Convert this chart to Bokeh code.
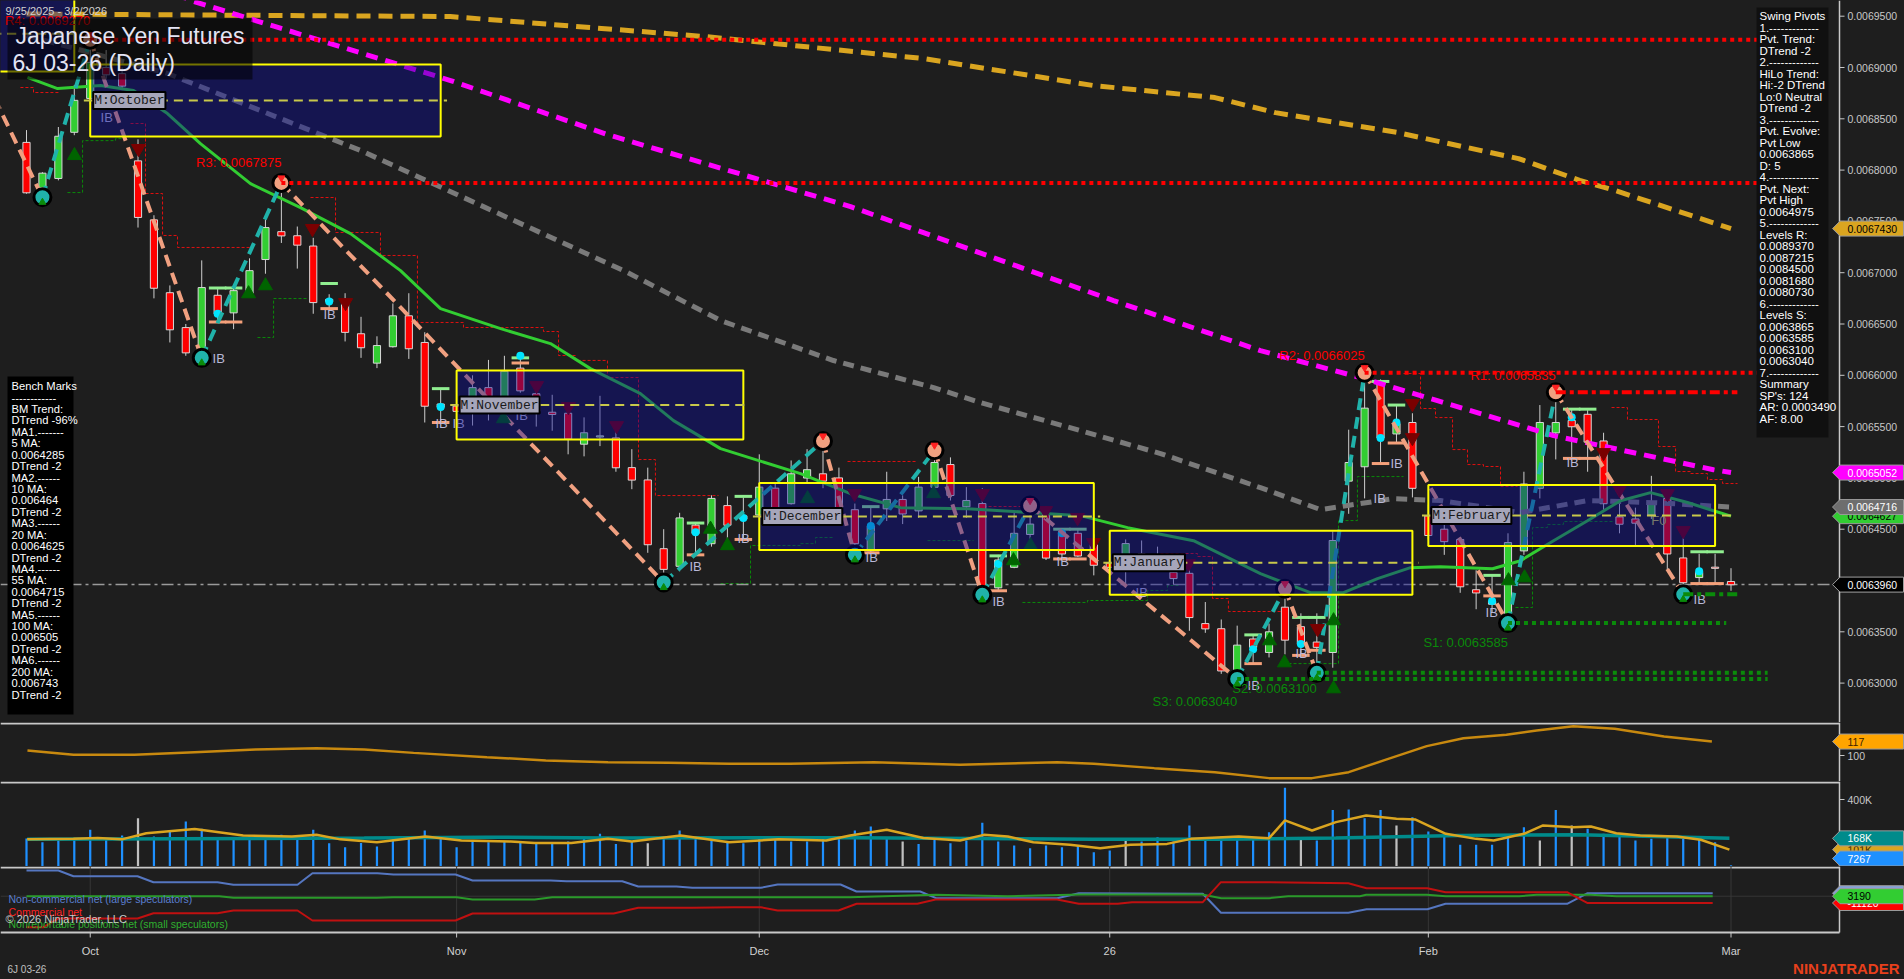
import numpy as np
import pandas as pd
from bokeh.plotting import figure
from bokeh.layouts import column
from bokeh.models import Range1d, ColumnDataSource, Label, GlobalInlineStyleSheet
from bokeh.core.properties import value
from bokeh.embed import file_html
from bokeh.resources import INLINE

# ============================ DATA ============================
start_date, end_date = "2025-09-25", "2026-03-02"
exchange_holidays = ["2025-11-27", "2025-12-25", "2026-01-01", "2026-01-19", "2026-02-16"]

# daily OHLC, price x 1e7
open_e7 = [68270, 67830, 67920, 68370, 68700, 69000, 68940, 68090, 67515, 66805,
           66465, 66240, 66780, 66610, 66800, 67130, 67400, 67360, 67260, 66740,
           66700, 66405, 66120, 66280, 66580, 66320, 65720, 65700, 65640, 65880,
           65690, 66070, 65820, 65640, 65630, 65330, 65400, 65390, 65100, 64980,
           64310, 64140, 64540, 64360, 64730, 64630, 64640, 64900, 64750, 65000,
           65040, 65000, 64690, 64290, 64700, 64790, 64680, 64910, 65130, 64720,
           64750, 63930, 64130, 64450, 64660, 64470, 64460, 64350, 64170, 64110,
           64260, 64200, 64080, 64070, 63580, 63530, 63120, 63430, 63300, 63740,
           63550, 63400, 63300, 64970, 65110, 65930, 65430, 65540, 64630, 64500,
           64400, 63910, 63800, 63650, 64290, 64900, 65440, 65560, 65620, 65360,
           64620, 64600, 64640, 64800, 64220, 64030, 64130, 63990]
high_e7 = [68390, 67980, 68420, 68830, 69270, 69170, 69000, 68300, 67560, 66876,
           66500, 67120, 66850, 66850, 67140, 67520, 67875, 67450, 67340, 66790,
           66800, 66570, 66380, 66700, 66800, 66420, 65870, 65850, 66000, 66150,
           66190, 66170, 65900, 65810, 65690, 65590, 65800, 65480, 65280, 65100,
           64500, 64660, 64560, 64830, 64820, 64810, 65230, 64950, 65170, 65280,
           65360, 65100, 64750, 64720, 65060, 64830, 65010, 65270, 65200, 64910,
           64900, 64250, 64660, 64730, 64720, 64510, 64510, 64450, 64260, 64400,
           64390, 64330, 64130, 64120, 63790, 63620, 63560, 63470, 63580, 63920,
           63680, 63680, 64480, 65470, 66025, 65960, 65710, 65630, 64740, 64650,
           64420, 64100, 64050, 64460, 65060, 65710, 65835, 65680, 65660, 65440,
           64750, 64710, 65020, 64850, 64440, 64260, 64260, 64120]
low_e7 = [67770, 67735, 67900, 68340, 68640, 68890, 68780, 67440, 66750, 66320,
          66190, 66170, 66520, 66450, 66780, 66990, 67290, 67040, 66600, 66650,
          66330, 66170, 66070, 66270, 66160, 65540, 65540, 65550, 65510, 65560,
          65620, 65830, 65500, 65460, 65230, 65210, 65310, 65060, 64890, 64270,
          63980, 64090, 64250, 64330, 64390, 64400, 64620, 64650, 64740, 64950,
          64900, 64660, 64250, 64270, 64580, 64550, 64610, 64900, 64780, 64610,
          63860, 63900, 64120, 64300, 64200, 64200, 64230, 64050, 64100, 63930,
          64100, 64120, 63960, 63510, 63490, 63090, 63040, 63190, 63250, 63280,
          63270, 63100, 63150, 64650, 64800, 65130, 65340, 64810, 64400, 64250,
          63880, 63720, 63690, 63585, 64250, 64800, 65180, 65170, 65060, 64680,
          64460, 64330, 64600, 64110, 63865, 63970, 63970, 63900]
close_e7 = [67780, 67970, 68330, 68680, 69050, 68930, 68820, 67540, 66850, 66445,
            66220, 66855, 66600, 66825, 67020, 67440, 67360, 67270, 66710, 66720,
            66420, 66270, 66290, 66580, 66260, 65700, 65690, 65650, 65880, 65640,
            66040, 65850, 65650, 65620, 65380, 65440, 65410, 65100, 64980, 64350,
            64110, 64610, 64460, 64800, 64540, 64600, 64910, 64710, 65040, 65080,
            64970, 64680, 64360, 64530, 64790, 64650, 64910, 65150, 64830, 64780,
            63920, 64200, 64460, 64550, 64220, 64260, 64240, 64150, 64130, 64360,
            64140, 64180, 64020, 63640, 63530, 63120, 63370, 63350, 63500, 63420,
            63380, 63350, 64390, 65150, 65680, 65390, 65530, 64900, 64440, 64380,
            63940, 63880, 63770, 64370, 64940, 65540, 65540, 65500, 65350, 64750,
            64550, 64560, 64750, 64260, 63980, 64080, 64120, 63960]
# volume in thousands of contracts
volume_k = [167, 145, 155, 165, 219, 165, 185, 288, 179, 215,
            269, 225, 175, 169, 179, 185, 189, 171, 219, 139,
            115, 141, 119, 165, 179, 215, 165, 115, 155, 145,
            149, 141, 135, 135, 149, 175, 195, 135, 149, 139,
            175, 215, 165, 155, 149, 139, 175, 165, 149, 149,
            165, 175, 215, 239, 175, 149, 135, 165, 139, 155,
            261, 149, 125, 109, 125, 115, 125, 85, 95, 169,
            149, 175, 149, 245, 169, 179, 175, 169, 205, 470,
            165, 155, 338, 340, 288, 338, 245, 294, 209, 199,
            130, 130, 130, 185, 235, 155, 338, 245, 225, 195,
            179, 155, 165, 179, 165, 179, 145, 7.267]
volume_grey_bars = [7, 39, 55, 69, 80, 86, 95, 97]

# moving averages (bar, price x1e7)
ma20_bar = [0.06, 1.95, 4.65, 6.72, 8.85, 10.92, 14.06, 17.2, 20.34, 23.48, 25.99, 29.76, 32.89, 35.4,
            38.54, 40.62, 43.57, 48.59, 51.73, 54.87, 59.07, 63.21, 66.16, 69.12, 73.26, 77.46, 80.6,
            82.67, 84.81, 86.88, 88.76, 92.03, 93.79, 95.86, 97.99, 100.06, 101.95, 104.27, 105.9, 107]
ma20_e7 = [68904, 68795, 68824, 68775, 68551, 68258, 67868, 67634, 67381, 67020, 66650, 66455, 66309, 66065,
           65821, 65558, 65285, 65041, 64846, 64710, 64700, 64661, 64632, 64515, 64388, 64067, 63881,
           63881, 64018, 64125, 64135, 64115, 64193, 64388, 64583, 64778, 64856, 64760, 64680, 64627]
ma55_bar = [0, 8.85, 20.97, 37.48, 43.57, 50.66, 56.94, 59.89, 66.16, 71.19, 77.46, 81.23, 83.74, 85.81,
            88.76, 93.79, 97.99, 102.13, 107]
ma55_e7 = [69312, 68942, 68191, 67021, 66534, 66144, 65880, 65734, 65461, 65237, 64905, 64691, 64750, 64798,
           64779, 64662, 64779, 64759, 64716]
ma100_bar = [5.9, 10.3, 26.62, 36.47, 51.73, 68.24, 77.46, 83.74, 88.57, 95.86, 105.9, 107]
ma100_e7 = [69947, 69653, 68873, 68346, 67644, 66728, 66240, 65977, 65753, 65412, 65080, 65052]
ma200_bar = [0, 26.6, 42.56, 56.3, 66.98, 74.6, 78.4, 86, 93.66, 97.5, 99.75, 107]
ma200_e7 = [69522, 69497, 69302, 69087, 68824, 68707, 68560, 68368, 68112, 67900, 67800, 67430]

# swing pivots (bar, price x1e7, H/L)
pivot_bar = [-2, 1, 4, 11, 16, 40, 50, 52, 57, 60, 63, 76, 79, 81, 84, 93, 96, 104]
pivot_e7 = [68700, 67735, 69270, 66170, 67875, 63980, 65360, 64250, 65270, 63860, 64730,
            63040, 63920, 63100, 66025, 63585, 65835, 63865]
pivot_kind = ["H", "L", "H", "L", "H", "L", "H", "L", "H", "L", "H", "L", "H", "L", "H", "L", "H", "L"]

# support / resistance levels
level_name = ["R4", "R3", "R2", "R1", "S1", "S2", "S3"]
level_e7 = [69270, 67875, 66025, 65835, 63585, 63100, 63040]
level_from_bar = [4, 16, 84, 96, 93, 81, 76]
pivot_low_now_e7 = 63865

# monthly range boxes
box_months = ["2025-09", "2025-10", "2025-11", "2025-12", "2026-01", "2026-02"]
box_hi_e7 = [69700, 69030, 66046, 64951, 64486, 64932]
box_lo_e7 = [68960, 68327, 65374, 64298, 63862, 64337]

# trailing stops (bar, price x1e7)
red_stop_paths = [
    [(-0.38, 68805), (0.44, 68805), (0.44, 68756), (2.13, 68756)],
    [(6.53, 68454), (7.47, 68454), (7.47, 67772), (8.54, 67772), (8.54, 67363), (9.48, 67363),
     (9.48, 67246), (14.06, 67246)],
    [(17.83, 67733), (19.4, 67733), (19.4, 67392), (22.22, 67392), (22.22, 67168), (24.54, 67168),
     (24.54, 66515), (27.43, 66515), (27.43, 66466), (32.45, 66466), (32.45, 66427), (33.4, 66427),
     (33.4, 66193), (34.46, 66193), (34.46, 66145), (36.47, 66145), (36.47, 65978), (38.42, 65978),
     (38.42, 65179), (39.48, 65179), (39.48, 64828), (43.44, 64828)],
    [(51.54, 65160), (55.93, 65160)],
    [(60.08, 64721), (63.03, 64721)],
    [(71.19, 64263), (73.51, 64263), (73.51, 64234), (74.45, 64234), (74.45, 63825), (75.45, 63825),
     (75.45, 63698), (79.16, 63698)],
    [(86.44, 66017), (87.51, 66017), (87.51, 65676), (88.45, 65676), (88.45, 65588), (89.52, 65588),
     (89.52, 65276), (90.46, 65276), (90.46, 65130), (91.46, 65130), (91.46, 65111), (92.53, 65111),
     (92.53, 64916), (93.6, 64916)],
    [(99.5, 65686), (100.5, 65686), (100.5, 65569), (102.45, 65569), (102.45, 65306), (103.52, 65306),
     (103.52, 65062), (104.46, 65062), (104.46, 65043), (105.52, 65043), (105.52, 64984),
     (106.47, 64984), (106.47, 64945), (107.41, 64945)],
]
green_stop_paths = [
    [(2.57, 67781), (3.52, 67781), (3.52, 68287), (5.59, 68287), (5.59, 68307), (6.21, 68307)],
    [(14.5, 66368), (15.51, 66368), (15.51, 66748), (17.64, 66748)],
    [(43.57, 63970), (45.45, 63970), (45.45, 64341), (48.59, 64341), (48.59, 64360), (49.53, 64360),
     (49.53, 64419), (50.66, 64419)],
    [(56.56, 64389), (59.45, 64389)],
    [(62.52, 63786), (66.6, 63786), (66.6, 63805), (70.37, 63805), (70.37, 63903), (71.63, 63903),
     (71.63, 63951), (72.44, 63951)],
    [(78.91, 63190), (82.36, 63190), (82.36, 64584), (83.55, 64584), (83.55, 65013), (86.44, 65013)],
    [(93.47, 63737), (94.54, 63737), (94.54, 64516), (95.48, 64516), (95.48, 64546), (96.48, 64546),
     (96.48, 64575), (99.56, 64575)],
]

# signal arrows, inside-bar markers and IB tags (bar, price x1e7)
up_arrow_bar = [3.01, 13.94, 15.0, 29.94, 42.94, 44.0, 49.03, 56.94, 61.96, 63.03, 78.03, 78.97, 82.05, 82.05, 93.03, 94.04]
up_arrow_e7 = [68142, 66795, 66873, 65577, 64500, 64340, 64798, 64847, 64193, 64340, 63413, 63198, 63608, 62945, 63998, 64027]
dn_arrow_bar = [7.03, 17.95, 20.03, 32.02, 34.02, 37.04, 51.98, 60.01, 63.97, 65.98, 66.98, 72.94, 81.04, 87.0, 87.0, 99.0, 100.0, 103.01, 104.0]
dn_arrow_e7 = [68210, 67430, 66708, 65899, 65694, 65509, 64847, 64847, 64681, 64613, 64369, 64164, 63531, 65724, 65392, 65246, 64886, 64847, 64486]
ib_bar = [4.65, 11.68, 18.64, 25.67, 26.74, 30.7, 41.62, 44.63, 52.67, 60.64, 64.66, 69.62, 76.65, 79.66, 84.56, 85.62, 91.59, 96.67, 104.65]
ib_e7 = [68512, 66160, 66590, 65530, 65530, 65610, 64140, 64410, 64225, 63800, 64190, 63880, 62975, 63290, 64800, 65140, 63690, 65150, 63810]
ibar_bar = [12, 13, 19, 26, 31, 42, 45, 53, 61, 65, 66, 77, 80, 81, 85, 86, 92, 97, 98, 105, 106]
ibar_hi_e7 = [66850, 66850, 66895, 65870, 66170, 64560, 64820, 64720, 64240, 64500, 64500, 63470, 63640,
              63640, 65940, 65710, 64050, 65670, 65670, 64280, 64280]
ibar_lo_e7 = [66520, 66520, 66650, 65540, 66120, 64250, 64400, 64270, 63900, 64210, 64210, 63190, 63270,
              63320, 65140, 65340, 63850, 65190, 65190, 63970, 63970]
dot_bar = [12, 19, 26, 31, 42, 45, 53, 61, 65, 77, 80, 85, 86, 92, 97, 105]
dot_e7 = [66600, 66720, 65690, 66190, 64470, 64610, 64530, 64160, 64460, 63330, 63380, 65390, 65540, 63800,
          65590, 64090]

# oscillator panel
osc_bar = [0.06, 2.95, 6.78, 10.55, 14.38, 18.2, 21.2, 24.3, 28.9, 32.6, 36.5, 40.3, 44.1, 47.9, 53.2, 58.6,
           64.7, 67, 70.8, 74.6, 78, 80.7, 83, 85.2, 87.9, 90.2, 92.9, 94.8, 97.1, 99.7, 102.8, 105.8]
osc_val = [106, 100.8, 100.8, 104, 107.3, 108.9, 107.3, 103.2, 98, 94, 91.9, 91.1, 89.9, 89.9, 91.9, 88.6,
           91.9, 89.9, 84.6, 79.7, 72.4, 72.4, 79.7, 94, 111.4, 121, 125.2, 130.5, 135.8, 132.6, 123.2, 117]

# volume averages (K)
vol_avg_bar = [0.04, 2.94, 4.47, 5.99, 7.52, 10.56, 13.6, 16.66, 18.2, 19.7, 22, 25.05, 27.3, 30.4, 31.9,
               34.2, 36.5, 38, 41.06, 44.1, 47.2, 50.2, 51.7, 54, 56.3, 58.6, 60.1, 61.6, 63.2, 65.5,
               67.4, 69.3, 71.6, 73.1, 76.1, 78, 79, 80.7, 82.2, 84.1, 86, 87.2, 89.1, 91, 92.1,
               94, 95.2, 97.1, 98.2, 99.8, 101.3, 103.6, 105.1, 106.9]
vol_avg_k = [162, 165, 170, 162, 199, 224, 185, 179, 189, 162, 145, 179, 155, 149, 141,
             141, 165, 149, 185, 145, 162, 155, 185, 219, 170, 155, 189, 179, 145, 130,
             109, 130, 135, 165, 179, 169, 275, 215, 265, 305, 285, 280, 195, 165, 155,
             195, 245, 235, 239, 199, 185, 179, 160, 101]
vol_avg2_bar = [0.04, 21.2, 28.8, 36.5, 51.7, 67, 74.6, 82.2, 89.9, 97.5, 106.9]
vol_avg2_k = [162, 170, 175, 170, 172, 162, 163, 170, 185, 190, 168]

# COT net positions
cot_blue_bar = [0, 2, 2.95, 6.97, 7.97, 11.99, 12.99, 17.01, 17.95, 22.03, 23.04, 26.93, 28.0, 32.9, 33.9,
                37.4, 38.4, 40.8, 41.8, 46.1, 47.15, 51.1, 52.1, 56.1, 57.1, 64.7, 66.06, 73.84, 74.98,
                82.98, 84.12, 87.94, 89.08, 96.71, 98.0, 105.85]
cot_blue = [57160, 57160, 45190, 45190, 32590, 32590, 27130, 27130, 51490, 51490, 48760, 48760, 36160, 36160,
            34690, 34690, 23560, 23560, 20830, 20830, 27760, 27760, 13060, 13060, -1010, -1010, 9490, 8230,
            -31670, -31670, -24110, -24110, -12770, -12770, 9490, 9490]
cot_green_bar = [0, 12.1, 13.0, 22.0, 23.0, 27.0, 28.0, 31.9, 33.0, 51.7, 57.07, 61.6, 66.2, 73.8, 75.0,
                 78.0, 79.2, 83.7, 84.1, 87.9, 89.1, 93.7, 94.8, 98.2, 99.8, 105.85]
cot_green = [3190, 3190, -170, -170, 1090, 1090, -3740, -3740, 1090, 1090, 6130, 3190, 6760, 6760, -1010,
             -1010, 3190, 3190, 6130, 6130, 3190, 3190, 6130, 6130, 3190, 3190]
cot_red_bar = [0, 1.07, 2.0, 6.97, 7.97, 11.99, 12.99, 17.01, 17.95, 26.93, 28.0, 36.86, 38.4, 41.8, 44.4,
               46.1, 47.15, 50.97, 52.11, 55.92, 57.07, 64.69, 66.06, 68.5, 69.4, 73.84, 74.98, 78.0,
               82.98, 84.12, 87.94, 89.08, 96.71, 98.0, 105.85]
cot_red = [-61910, -61910, -43640, -43640, -32510, -32510, -26840, -26840, -47840, -47840, -33140, -33140,
           -21170, -21170, -19910, -19910, -26840, -26840, -12770, -12770, -3740, -3740, -12770, -12770,
           -9410, -9410, 32590, 32590, 30490, 19990, 19990, 11590, 11590, -11120, -11120]

bench_lines = ["Bench Marks", "------------", "BM Trend:", "DTrend -96%", "MA1.-------", "5 MA:",
               "0.0064285", "DTrend -2", "MA2.------", "10 MA:", "0.006464", "DTrend -2", "MA3.------",
               "20 MA:", "0.0064625", "DTrend -2", "MA4.------", "55 MA:", "0.0064715", "DTrend -2",
               "MA5.------", "100 MA:", "0.006505", "DTrend -2", "MA6.------", "200 MA:", "0.006743",
               "DTrend -2"]
swing_lines = ["Swing Pivots", "1.-------------", "Pvt. Trend:", "DTrend -2", "2.-------------",
               "HiLo Trend:", "Hi:-2 DTrend", "Lo:0 Neutral", "DTrend -2", "3.-------------",
               "Pvt. Evolve:", "Pvt Low", "0.0063865", "D: 5", "4.-------------", "Pvt. Next:",
               "Pvt High", "0.0064975", "5.-------------", "Levels R:", "0.0089370", "0.0087215",
               "0.0084500", "0.0081680", "0.0080730", "6.-------------", "Levels S:", "0.0063865",
               "0.0063585", "0.0063100", "0.0063040", "7.-------------", "Summary", "SP's: 124",
               "AR: 0.0003490", "AF: 8.00"]
cot_legend = ["Non-commercial net (large speculators)", "Commercial net",
              "Nonreportable positions net (small speculators)"]

# ============================ SETUP ============================
E7 = 1e-7
o, h, l, c = (np.array(a, dtype=float) * E7 for a in (open_e7, high_e7, low_e7, close_e7))
n = len(o)
idx = np.arange(n)
dates = pd.bdate_range(start_date, end_date)
dates = dates[~dates.isin(pd.to_datetime(exchange_holidays))][:n]
per = dates.to_period("M")
month_first = [i for i in range(len(dates)) if i == 0 or per[i] != per[i - 1]]
tick_idx = [i for i in month_first if dates[i].day <= 7]
tick_lab = [(dates[i].strftime("%y") if dates[i].month == 1 else dates[i].strftime("%b")) for i in tick_idx]

BG = "#1e1e1e"
SANS = "Liberation Sans"
MONO = "Liberation Mono"
AXC = "#c8c8c8"
AXIS_PX = 1839

# reference pixel -> data helpers (layout only)
PPX = 0.00005 / 51.3
def xd(px): return (px - 26.0) / 15.93
def yd(py): return 0.00695 - (py - 15.7) * PPX
def osc_y(py): return 100 + (755 - py) / 0.82
def vol_y(py): return (866 - py) / 0.1675
def cot_y(py): return 3190 + (895.7 - py) * 2100

W = 1904
xr = Range1d(xd(0), xd(W))

def panel(top, bot, yfun):
    p = figure(frame_width=W, frame_height=bot - top, x_range=xr,
               y_range=Range1d(yfun(bot), yfun(top)), output_backend="svg",
               toolbar_location=None, x_axis_location=None, y_axis_location=None,
               min_border_left=0, min_border_right=0, min_border_top=0, min_border_bottom=0,
               background_fill_color=BG, border_fill_color=BG, outline_line_color=None)
    p.grid.visible = False
    return p

def txt(p, x, y, s, size="10.5px", color=AXC, align="left", font=SANS, style="normal"):
    xs = list(x) if isinstance(x, (list, tuple, np.ndarray)) else [x]
    ys = list(y) if isinstance(y, (list, tuple, np.ndarray)) else [y]
    ss = list(s) if isinstance(s, list) else [s]
    p.text(x=xs, y=ys, text=ss, text_font=value(font), text_font_size=size, text_color=color,
           text_align=align, text_baseline="middle", text_font_style=style)

def right_axis(p, top, bot, yfun, ticks, labels):
    p.segment(x0=xd(AXIS_PX), y0=yfun(bot), x1=xd(AXIS_PX), y1=yfun(top), line_color=AXC, line_width=1.5)
    p.segment(x0=[xd(AXIS_PX)] * len(ticks), y0=ticks, x1=[xd(AXIS_PX + 5)] * len(ticks), y1=ticks,
              line_color=AXC, line_width=1)
    txt(p, [xd(AXIS_PX + 8)] * len(ticks), ticks, labels, size="10.5px", color=AXC)

def separator(p, yv):
    p.segment(x0=xd(0), y0=yv, x1=xd(AXIS_PX), y1=yv, line_color=AXC, line_width=2)

def add_tag(p, yv, s, fill, fg, dpp, border=None):
    hh = 7.5 * dpp
    p.patch(x=[xd(1832), xd(1839.5), xd(1903), xd(1903), xd(1839.5)],
            y=[yv, yv + hh, yv + hh, yv - hh, yv - hh], fill_color=fill,
            line_color=border or "#9a9a9a", line_width=1)
    txt(p, xd(1847), yv, s, size="10.5px", color=fg)

# ============================ PRICE PANEL ============================
p1 = panel(0, 722, yd)

# trailing stops
p1.multi_line(xs=[[q[0] for q in path] for path in red_stop_paths],
              ys=[[q[1] * E7 for q in path] for path in red_stop_paths],
              line_color="#e01010", line_width=1, line_dash="3 2")
p1.multi_line(xs=[[q[0] for q in path] for path in green_stop_paths],
              ys=[[q[1] * E7 for q in path] for path in green_stop_paths],
              line_color="#0a8a0a", line_width=1, line_dash="3 2")

# last price line
p1.segment(x0=xd(0), y0=c[-1], x1=xd(AXIS_PX), y1=c[-1], line_color="#9a9a9a", line_width=1.5,
           line_dash="12 4 3 4")

# candles
src = ColumnDataSource(dict(x=idx, h=h, l=l, top=np.maximum(o, c), bot=np.minimum(o, c) - 1.5e-7,
                            fill=np.where(c >= o, "#32CD32", "#FF0000")))
p1.segment(x0="x", y0="h", x1="x", y1="l", source=src, line_color="#cfcfcf", line_width=1)
p1.vbar(x="x", top="top", bottom="bot", width=0.45, source=src, fill_color="fill",
        line_color="#d8d8d8", line_width=1)

# inside-bar markers
ib_x = np.array(ibar_bar, dtype=float)
p1.segment(x0=ib_x - 0.55, y0=np.array(ibar_hi_e7) * E7, x1=ib_x + 0.55, y1=np.array(ibar_hi_e7) * E7,
           line_color="#90EE90", line_width=3)
p1.segment(x0=ib_x - 0.55, y0=np.array(ibar_lo_e7) * E7, x1=ib_x + 0.55, y1=np.array(ibar_lo_e7) * E7,
           line_color="#F4A07A", line_width=3)
p1.scatter(dot_bar, np.array(dot_e7) * E7, marker="circle", size=8, fill_color="#00E5FF",
           line_color=None)

# moving averages
p1.line(ma200_bar, np.array(ma200_e7) * E7, line_color="#DAA520", line_width=5, line_dash="14 8")
p1.line(ma100_bar, np.array(ma100_e7) * E7, line_color="#FF00FF", line_width=5, line_dash="12 8")
p1.line(ma55_bar, np.array(ma55_e7) * E7, line_color="#7a7a7a", line_width=5, line_dash="11 7")
p1.line(ma20_bar, np.array(ma20_e7) * E7, line_color="#32CD32", line_width=3)

# zigzag
pv_p = np.array(pivot_e7) * E7
zx0, zy0, zx1, zy1, zc = [], [], [], [], []
for i in range(len(pivot_bar) - 1):
    zx0.append(pivot_bar[i]); zy0.append(pv_p[i]); zx1.append(pivot_bar[i + 1]); zy1.append(pv_p[i + 1])
    zc.append("#20B2AA" if pivot_kind[i] == "L" else "#F0A080")
p1.segment(x0=zx0, y0=zy0, x1=zx1, y1=zy1, line_color=zc, line_width=4, line_dash="12 7")

# arrows
p1.scatter(up_arrow_bar, np.array(up_arrow_e7) * E7, marker="triangle", size=14,
           fill_color="#006400", line_color="#006400")
p1.scatter(dn_arrow_bar, np.array(dn_arrow_e7) * E7, marker="inverted_triangle", size=14,
           fill_color="#7a0000", line_color="#7a0000")

# pivot circles
pv_show = [i for i in range(len(pivot_bar)) if pivot_bar[i] >= 0]
p1.scatter([pivot_bar[i] for i in pv_show], [pv_p[i] for i in pv_show], marker="circle", size=17,
           fill_color=["#F0A080" if pivot_kind[i] == "H" else "#20B2AA" for i in pv_show],
           line_color="black", line_width=3)
hi_show = [i for i in pv_show if pivot_kind[i] == "H"]
lo_show = [i for i in pv_show if pivot_kind[i] == "L"]
p1.scatter([pivot_bar[i] for i in hi_show], [pv_p[i] + 5 * PPX for i in hi_show],
           marker="inverted_triangle", size=7, color="#ff2020")
p1.scatter([pivot_bar[i] for i in lo_show], [pv_p[i] - 5 * PPX for i in lo_show],
           marker="triangle", size=7, color="#0a8a0a")

# IB tags
txt(p1, ib_bar, list(np.array(ib_e7) * E7), ["IB"] * len(ib_bar), size="13px", color="#b8b8d8")
txt(p1, 102.0, 64580 * E7, "F0", size="13px", color="#c8c850")

# monthly boxes
labels_to_add = []
for k, m in enumerate(box_months):
    pm = pd.Period(m, "M")
    members = [i for i in range(n) if per[i] == pm]
    a, b = members[0], members[-1]
    full = dates[a].day <= 7
    left = a if full else xr.start - 2
    hi, lo = box_hi_e7[k] * E7, box_lo_e7[k] * E7
    mid = (hi + lo) / 2
    p1.quad(left=left, right=b, top=hi, bottom=lo, fill_color="#0a0a96", fill_alpha=0.42,
            line_color="#FFFF00", line_width=2)
    mid_r = n - 1 if k == len(box_months) - 1 else b + 0.4
    p1.segment(x0=left - 0.4, y0=mid, x1=mid_r, y1=mid, line_color="#c8c84b", line_width=2,
               line_dash="9 6")
    if full:
        labels_to_add.append((a, mid, "M:" + dates[a].strftime("%B")))
for a, mid, s in labels_to_add:
    p1.add_layout(Label(x=a, y=mid, text=s, text_font=MONO, text_font_size="13px",
                        text_color="#1a1a1a", text_baseline="middle", text_align="left",
                        x_offset=3, background_fill_color="#a6a6ba", background_fill_alpha=1.0,
                        border_line_color="black", border_line_width=2, padding=1))

# support / resistance
ends = {"R4": 109.3, "R3": 109.3, "R2": 109.3, "R1": 107.4, "S1": 106.7, "S2": 109.3, "S3": 109.3}
txt_dy = {"R4": 19, "R3": 20, "R2": 17, "R1": 17, "S1": -19, "S2": -16, "S3": -23}
for nm, lv, fb in zip(level_name, level_e7, level_from_bar):
    col = "#FF0000" if nm.startswith("R") else "#0a8a0a"
    dash = "10 4 4 4" if nm == "R1" else "4 4"
    p1.segment(x0=fb, y0=lv * E7, x1=ends[nm], y1=lv * E7, line_color=col, line_width=4, line_dash=dash)
    txt(p1, fb, lv * E7 + txt_dy[nm] * PPX, "%s: %.7f" % (nm, lv * E7), size="13px", color=col,
        align="right")
p1.segment(x0=pivot_bar[-1], y0=pivot_low_now_e7 * E7, x1=107.4, y1=pivot_low_now_e7 * E7,
           line_color="#0a8a0a", line_width=4, line_dash="10 4 4 4")

# info boxes
p1.quad(left=xd(7), right=xd(73), top=yd(376), bottom=yd(714), fill_color="#000000", line_color=None)
txt(p1, [xd(11)] * len(bench_lines), [yd(385.7 + i * 11.42) for i in range(len(bench_lines))],
    bench_lines, size="11.2px", color="#ffffff")
p1.quad(left=xd(1756), right=xd(1828), top=yd(7), bottom=yd(437), fill_color="#101010", line_color=None)
txt(p1, [xd(1759)] * len(swing_lines), [yd(15.7 + i * 11.5) for i in range(len(swing_lines))],
    swing_lines, size="11.5px", color="#ffffff")

# title
p1.quad(left=xd(7), right=xd(252), top=yd(18), bottom=yd(79), fill_color="#000000", fill_alpha=0.55,
        line_color=None)
txt(p1, [xd(15), xd(12)], [yd(35), yd(62)], ["Japanese Yen Futures", "6J 03-26 (Daily)"],
    size="23px", color="#e4e4f4")
txt(p1, xd(5), yd(10), "%d/%d/%d - %d/%d/%d" % (dates[0].month, dates[0].day, dates[0].year,
                                                dates[-1].month, dates[-1].day, dates[-1].year),
    size="11px", color="#d0d0d0")

# right axis + value tags
pticks = [t * 0.00005 for t in range(int(np.ceil(yd(722) / 0.00005)), int(np.floor(yd(0) / 0.00005)) + 1)]
right_axis(p1, 0, 722, yd, pticks, ["%.7f" % t for t in pticks])
add_tag(p1, ma200_e7[-1] * E7, "%.7f" % (ma200_e7[-1] * E7), "#DAA520", "#000000", PPX)
add_tag(p1, ma100_e7[-1] * E7, "%.7f" % (ma100_e7[-1] * E7), "#FF00FF", "#ffffff", PPX)
add_tag(p1, ma20_e7[-1] * E7, "%.7f" % (ma20_e7[-1] * E7), "#32CD32", "#000000", PPX)
add_tag(p1, ma55_e7[-1] * E7, "%.7f" % (ma55_e7[-1] * E7), "#6e6e6e", "#ffffff", PPX)
add_tag(p1, c[-1], "%.7f" % c[-1], "#000000", "#ffffff", PPX, border="#a0a0a0")

# ============================ OSCILLATOR PANEL ============================
p2 = panel(722, 781, osc_y)
separator(p2, osc_y(723))
p2.line(osc_bar, osc_val, line_color="#C8890F", line_width=2.5)
right_axis(p2, 722, 781, osc_y, [100], ["100"])
add_tag(p2, osc_val[-1], "%d" % round(osc_val[-1]), "#FFA500", "#3c1e00", 1 / 0.82)

# ============================ VOLUME PANEL ============================
p3 = panel(781, 866, vol_y)
separator(p3, vol_y(782))
vcol = ["#c0c0c0" if i in volume_grey_bars else "#1E90FF" for i in idx]
p3.vbar(x=idx, top=volume_k, bottom=0, width=0.14, fill_color=vcol, line_color=None)
p3.line(vol_avg2_bar, vol_avg2_k, line_color="#008B8B", line_width=3.5)
p3.line(vol_avg_bar, vol_avg_k, line_color="#DAA520", line_width=2.5)
right_axis(p3, 781, 866, vol_y, [400], ["400K"])
dv = 1 / 0.1675
add_tag(p3, vol_avg_k[-1], "%dK" % round(vol_avg_k[-1]), "#DAA520", "#4a2a00", dv)
add_tag(p3, vol_avg2_k[-1], "%dK" % round(vol_avg2_k[-1]), "#008B8B", "#ffffff", dv)
add_tag(p3, max(volume_k[-1], vol_y(858)), "%d" % round(volume_k[-1] * 1000), "#1E90FF", "#ffffff", dv)

# ============================ COT PANEL + TIME AXIS ============================
p4 = panel(866, 979, cot_y)
separator(p4, cot_y(867))
p4.segment(x0=tick_idx, y0=[cot_y(932)] * len(tick_idx), x1=tick_idx, y1=[cot_y(866)] * len(tick_idx),
           line_color="#363636", line_width=1)
p4.segment(x0=xd(0), y0=3190, x1=xd(AXIS_PX), y1=3190, line_color="#363636", line_width=1)
p4.line(cot_blue_bar, cot_blue, line_color="#5576c0", line_width=2)
p4.line(cot_green_bar, cot_green, line_color="#2a9a2a", line_width=2)
p4.line(cot_red_bar, cot_red, line_color="#c01010", line_width=2)
right_axis(p4, 866, 932, cot_y, [], [])
# time axis
p4.segment(x0=xd(0), y0=cot_y(932), x1=xd(AXIS_PX), y1=cot_y(932), line_color=AXC, line_width=2)
p4.segment(x0=tick_idx, y0=[cot_y(932)] * len(tick_idx), x1=tick_idx, y1=[cot_y(937)] * len(tick_idx),
           line_color=AXC, line_width=1)
txt(p4, tick_idx, [cot_y(950)] * len(tick_idx), tick_lab, size="11px", color="#d2d2d2", align="center")
# legend texts
for s, py, col in zip(cot_legend, [898, 911, 923], ["#5a7fd0", "#ff2020", "#2fb02f"]):
    txt(p4, xd(8), cot_y(py), s, size="10.5px", color=col)
txt(p4, xd(5), cot_y(918), "\u00a9 2026 NinjaTrader, LLC", size="11px", color="#c8c8c8")
add_tag(p4, cot_blue[-1], "%d" % cot_blue[-1], "#87a0d8", "#000000", 2100)
add_tag(p4, cot_red[-1], "%d" % cot_red[-1], "#FF0000", "#ffffff", 2100)
add_tag(p4, cot_green[-1], "%d" % cot_green[-1], "#32CD32", "#000000", 2100)
txt(p4, xd(7), cot_y(969), "6J 03-26", size="10px", color="#c0c0c0")
txt(p4, xd(1899), cot_y(968), "NINJATRADER", size="15px", color="#E8401C", align="right", style="bold")

layout = column(p1, p2, p3, p4, spacing=0)
layout.stylesheets = [GlobalInlineStyleSheet(css="html, body { background-color: #1e1e1e; }")]
open("out.html", "w").write(file_html(layout, INLINE))
